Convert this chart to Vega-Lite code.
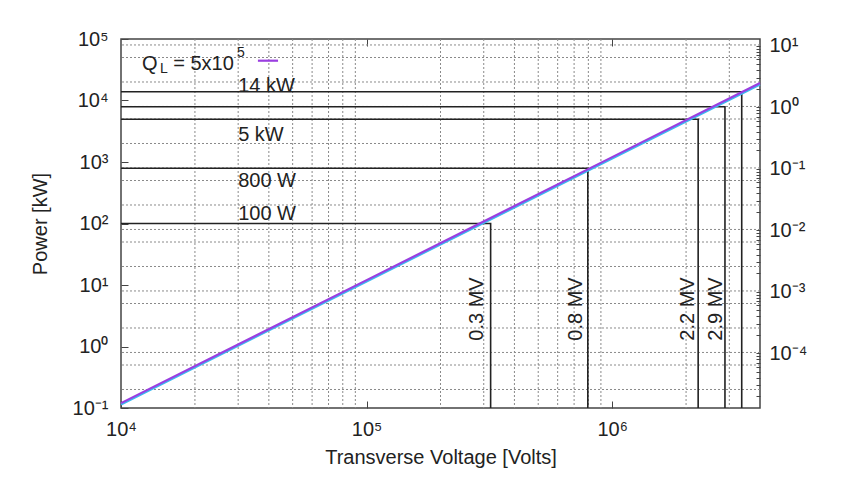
{
  "$schema": "https://vega.github.io/schema/vega-lite/v6.json",
  "width": 639,
  "height": 369,
  "autosize": {"type": "none"},
  "padding": {"left": 121, "top": 39, "right": 103, "bottom": 80},
  "background": "white",
  "config": {
    "font": "Liberation Sans",
    "view": {"stroke": "#444", "strokeWidth": 1.5},
    "axis": {
      "labelFont": "Liberation Sans",
      "titleFont": "Liberation Sans",
      "labelFontSize": 20,
      "titleFontSize": 20,
      "titleFontWeight": "normal",
      "labelColor": "#222",
      "titleColor": "#222",
      "tickColor": "#444",
      "grid": false,
      "domain": false,
      "labelOverlap": false,
      "labelFlush": false
    }
  },
  "datasets": {
    "gridx": [
      {"x": 20000}, {"x": 30000}, {"x": 40000}, {"x": 50000}, {"x": 60000}, {"x": 70000}, {"x": 80000}, {"x": 90000},
      {"x": 200000}, {"x": 300000}, {"x": 400000}, {"x": 500000}, {"x": 600000}, {"x": 700000}, {"x": 800000}, {"x": 900000},
      {"x": 2000000}, {"x": 3000000}
    ],
    "gridy": [
      {"y": 0.2}, {"y": 0.5}, {"y": 0.8},
      {"y": 2}, {"y": 5}, {"y": 8},
      {"y": 20}, {"y": 50}, {"y": 80},
      {"y": 200}, {"y": 500}, {"y": 800},
      {"y": 2000}, {"y": 5000}, {"y": 8000},
      {"y": 20000}, {"y": 50000}, {"y": 80000}
    ],
    "corners": [
      {"g": "100 W", "o": 1, "x": 10000, "y": 100},
      {"g": "100 W", "o": 2, "x": 320000, "y": 100},
      {"g": "100 W", "o": 3, "x": 320000, "y": 0.1},
      {"g": "800 W", "o": 1, "x": 10000, "y": 790},
      {"g": "800 W", "o": 2, "x": 796000, "y": 790},
      {"g": "800 W", "o": 3, "x": 796000, "y": 0.1},
      {"g": "5 kW", "o": 1, "x": 10000, "y": 4950},
      {"g": "5 kW", "o": 2, "x": 2240000, "y": 4950},
      {"g": "5 kW", "o": 3, "x": 2240000, "y": 0.1},
      {"g": "8 kW", "o": 1, "x": 10000, "y": 7930},
      {"g": "8 kW", "o": 2, "x": 2880000, "y": 7930},
      {"g": "8 kW", "o": 3, "x": 2880000, "y": 0.1},
      {"g": "14 kW", "o": 1, "x": 10000, "y": 13900},
      {"g": "14 kW", "o": 2, "x": 3370000, "y": 13900},
      {"g": "14 kW", "o": 3, "x": 3370000, "y": 0.1}
    ],
    "curves": [
      {"s": "b", "x": 10000, "y": 0.114},
      {"s": "b", "x": 100000, "y": 11.4},
      {"s": "b", "x": 1000000, "y": 1140},
      {"s": "b", "x": 4000000, "y": 18240},
      {"s": "a", "x": 10000, "y": 0.12},
      {"s": "a", "x": 100000, "y": 12},
      {"s": "a", "x": 1000000, "y": 1200},
      {"s": "a", "x": 4000000, "y": 19200}
    ],
    "hlabels": [
      {"t": "14 kW", "x": 30000, "y": 13800},
      {"t": "5 kW", "x": 30000, "y": 2220},
      {"t": "800 W", "x": 30000, "y": 396},
      {"t": "100 W", "x": 30000, "y": 114}
    ],
    "vlabels": [
      {"t": "0.3 MV", "x": 297000, "y": 4.07},
      {"t": "0.8 MV", "x": 757000, "y": 4.07},
      {"t": "2.2 MV", "x": 2160000, "y": 4.07},
      {"t": "2.9 MV", "x": 2810000, "y": 4.07}
    ],
    "legbig": [
      {"t": "Q", "x": 12170, "y": 31300},
      {"t": "= 5x10", "x": 16320, "y": 31300}
    ],
    "legsmall": [
      {"t": "L", "x": 14400, "y": 28000},
      {"t": "5", "x": 29700, "y": 51000}
    ],
    "legline": [
      {"x": 36100, "y": 44400},
      {"x": 43600, "y": 44400}
    ],
    "right": [
      {"x": 10000, "y": 0.0000129},
      {"x": 4000000, "y": 12.9}
    ]
  },
  "layer": [
    {
      "layer": [
        {
          "data": {"name": "gridx"},
          "mark": {"type": "rule", "color": "#8a8a8a", "strokeWidth": 1, "strokeDash": [2, 2]},
          "encoding": {
            "x": {
              "field": "x", "type": "quantitative",
              "scale": {"type": "log", "domain": [10000, 4000000], "nice": false},
              "axis": {
                "values": [10000, 100000, 1000000],
                "labelExpr": "'10' + replace(replace(replace(replace(replace(replace(replace(replace(toString(round(log(datum.value)/LN10)), '-', '⁻'), '0', '⁰'), '1', '¹'), '2', '²'), '3', '³'), '4', '⁴'), '5', '⁵'), '6', '⁶')",
                "tickSize": -7,
                "labelPadding": 18,
                "title": "Transverse Voltage [Volts]",
                "titlePadding": 8
              }
            }
          }
        },
        {
          "data": {"name": "gridy"},
          "mark": {"type": "rule", "color": "#8a8a8a", "strokeWidth": 1, "strokeDash": [2, 2]},
          "encoding": {
            "y": {
              "field": "y", "type": "quantitative",
              "scale": {"type": "log", "domain": [0.1, 100000], "nice": false},
              "axis": {
                "values": [0.1, 1, 10, 100, 1000, 10000, 100000],
                "labelExpr": "'10' + replace(replace(replace(replace(replace(replace(replace(toString(round(log(datum.value)/LN10)), '-', '⁻'), '0', '⁰'), '1', '¹'), '2', '²'), '3', '³'), '4', '⁴'), '5', '⁵')",
                "tickSize": -7,
                "labelPadding": 20,
                "title": "Power [kW]",
                "titlePadding": 22
              }
            }
          }
        },
        {
          "data": {"name": "corners"},
          "mark": {"type": "line", "color": "#222", "strokeWidth": 1.6},
          "encoding": {
            "x": {"field": "x", "type": "quantitative"},
            "y": {"field": "y", "type": "quantitative"},
            "detail": {"field": "g"},
            "order": {"field": "o"}
          }
        },
        {
          "data": {"name": "curves"},
          "mark": {"type": "line", "strokeWidth": 2.2},
          "encoding": {
            "x": {"field": "x", "type": "quantitative"},
            "y": {"field": "y", "type": "quantitative"},
            "color": {"field": "s", "type": "nominal", "scale": {"domain": ["b", "a"], "range": ["#3cb9f0", "#9a3ee0"]}, "legend": null},
            "order": {"field": "x"}
          }
        },
        {
          "data": {"name": "hlabels"},
          "mark": {"type": "text", "align": "left", "baseline": "alphabetic", "fontSize": 20, "color": "#222"},
          "encoding": {
            "x": {"field": "x", "type": "quantitative"},
            "y": {"field": "y", "type": "quantitative"},
            "text": {"field": "t"}
          }
        },
        {
          "data": {"name": "vlabels"},
          "mark": {"type": "text", "align": "center", "baseline": "alphabetic", "angle": 270, "fontSize": 20, "color": "#222"},
          "encoding": {
            "x": {"field": "x", "type": "quantitative"},
            "y": {"field": "y", "type": "quantitative"},
            "text": {"field": "t"}
          }
        },
        {
          "data": {"name": "legbig"},
          "mark": {"type": "text", "align": "left", "baseline": "alphabetic", "fontSize": 20, "color": "#222"},
          "encoding": {
            "x": {"field": "x", "type": "quantitative"},
            "y": {"field": "y", "type": "quantitative"},
            "text": {"field": "t"}
          }
        },
        {
          "data": {"name": "legsmall"},
          "mark": {"type": "text", "align": "left", "baseline": "alphabetic", "fontSize": 14, "color": "#222"},
          "encoding": {
            "x": {"field": "x", "type": "quantitative"},
            "y": {"field": "y", "type": "quantitative"},
            "text": {"field": "t"}
          }
        },
        {
          "data": {"name": "legline"},
          "mark": {"type": "line", "color": "#9a3ee0", "strokeWidth": 2.2},
          "encoding": {
            "x": {"field": "x", "type": "quantitative"},
            "y": {"field": "y", "type": "quantitative"}
          }
        }
      ]
    },
    {
      "data": {"name": "right"},
      "mark": {"type": "point", "opacity": 0},
      "encoding": {
        "x": {
          "field": "x", "type": "quantitative",
          "scale": {"type": "log", "domain": [10000, 4000000], "nice": false},
          "axis": {"orient": "top", "values": [100000, 1000000], "labels": false, "tickSize": -7, "title": null}
        },
        "y": {
          "field": "y", "type": "quantitative",
          "scale": {"type": "log", "domain": [0.0000129, 12.9], "nice": false},
          "axis": {
            "orient": "right",
            "values": [0.00002, 0.00003, 0.00004, 0.00005, 0.00006, 0.00007, 0.00008, 0.00009,
                       0.0001, 0.0002, 0.0003, 0.0004, 0.0005, 0.0006, 0.0007, 0.0008, 0.0009,
                       0.001, 0.002, 0.003, 0.004, 0.005, 0.006, 0.007, 0.008, 0.009,
                       0.01, 0.02, 0.03, 0.04, 0.05, 0.06, 0.07, 0.08, 0.09,
                       0.1, 0.2, 0.3, 0.4, 0.5, 0.6, 0.7, 0.8, 0.9,
                       1, 2, 3, 4, 5, 6, 7, 8, 9, 10],
            "labelExpr": "abs(log(datum.value)/LN10 - round(log(datum.value)/LN10)) > 0.001 ? '' : '10' + replace(replace(replace(replace(replace(replace(toString(round(log(datum.value)/LN10)), '-', '⁻'), '0', '⁰'), '1', '¹'), '2', '²'), '3', '³'), '4', '⁴')",
            "tickSize": -4,
            "labelPadding": 13,
            "title": null
          }
        }
      }
    }
  ],
  "resolve": {"scale": {"x": "independent", "y": "independent"}}
}
